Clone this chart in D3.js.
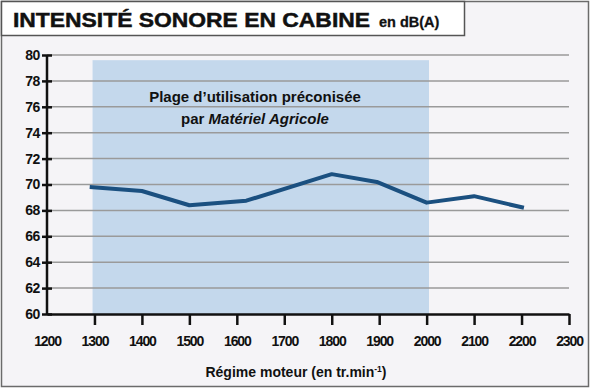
<!DOCTYPE html>
<html>
<head>
<meta charset="utf-8">
<script src="https://cdn.jsdelivr.net/npm/d3@7"></script>
<style>
  body { margin: 0; background: #fff; }
  svg { display: block; font-family: "Liberation Sans", Arial, Helvetica, sans-serif; }
</style>
</head>
<body>
<svg id="canvas"></svg>
<script>
// engine speed (tr/min) and cabin noise (dB(A))
const rpm = [1290, 1400, 1500, 1620, 1800, 1895, 2000, 2100, 2205];
const noise = [69.8, 69.5, 68.4, 68.75, 70.8, 70.2, 68.6, 69.1, 68.2];

const xTicks = [1200, 1300, 1400, 1500, 1600, 1700, 1800, 1900, 2000, 2100, 2200, 2300];
const yTicks = [60, 62, 64, 66, 68, 70, 72, 74, 76, 78, 80];

// recommended range (shaded band)
const bandRpm = [1296, 2005];
const bandTop = 79.6;

const width = 591, height = 388;

const svg = d3.select("#canvas")
    .attr("width", width)
    .attr("height", height);

// background + frame
svg.append("rect")
    .attr("x", 1.5).attr("y", 1.5)
    .attr("width", width - 4).attr("height", height - 3)
    .attr("fill", "#f5f4f7")
    .attr("stroke", "#6b6b6b")
    .attr("stroke-width", 1.5);

// title box
svg.append("rect")
    .attr("x", 1.5).attr("y", 1.5)
    .attr("width", 463).attr("height", 34)
    .attr("fill", "#fff")
    .attr("stroke", "#555")
    .attr("stroke-width", 1.5);

const title = svg.append("text")
    .attr("x", 13)
    .attr("y", 27)
    .attr("font-weight", "bold")
    .attr("fill", "#111")
    .attr("stroke", "#111")
    .attr("stroke-width", 0.5);
title.append("tspan")
    .attr("font-size", 21)
    .attr("textLength", 357)
    .attr("lengthAdjust", "spacingAndGlyphs")
    .text("INTENSITÉ SONORE EN CABINE");
title.append("tspan")
    .attr("x", 379)
    .attr("font-size", 14.5)
    .attr("stroke-width", 0.3)
    .text("en dB(A)");

const x = d3.scaleLinear().domain([1200, 2300]).range([47, 569]);
const y = d3.scaleLinear().domain([60, 80]).range([314, 55]);

// shaded band
svg.append("rect")
    .attr("x", x(bandRpm[0]))
    .attr("y", y(bandTop))
    .attr("width", x(bandRpm[1]) - x(bandRpm[0]))
    .attr("height", y(60) - y(bandTop))
    .attr("fill", "#c4d8ec");

// grid
svg.append("g")
    .selectAll("line")
    .data(yTicks.slice(1))
    .enter()
    .append("line")
    .attr("x1", x(1200))
    .attr("x2", x(2300))
    .attr("y1", d => y(d))
    .attr("y2", d => y(d))
    .attr("stroke", "#9a9a9a")
    .attr("stroke-width", 1.5);

// band label
const bandLabel = svg.append("text")
    .attr("text-anchor", "middle")
    .attr("font-weight", "bold")
    .attr("font-size", 15)
    .attr("fill", "#111");
bandLabel.append("tspan")
    .attr("x", 255).attr("y", 102)
    .text("Plage d’utilisation préconisée");
const line2 = bandLabel.append("tspan")
    .attr("x", 255).attr("y", 124);
line2.append("tspan").text("par ");
line2.append("tspan").attr("font-style", "italic").text("Matériel Agricole");

// line
const line = d3.line()
    .x((d, i) => x(rpm[i]))
    .y(d => y(d));

svg.append("path")
    .datum(noise)
    .attr("d", line)
    .attr("fill", "none")
    .attr("stroke", "#1b5080")
    .attr("stroke-width", 4)
    .attr("stroke-linejoin", "round");

// axes
const xAxis = d3.axisBottom(x)
    .tickValues(xTicks)
    .tickSizeInner(11)
    .tickSizeOuter(0)
    .tickPadding(6)
    .tickFormat(d => d);

const gx = svg.append("g")
    .attr("transform", `translate(0, ${y(60)})`)
    .call(xAxis);
gx.select(".domain").attr("stroke", "#111").attr("stroke-width", 2.5);
gx.selectAll(".tick line").attr("stroke", "#111").attr("stroke-width", 2.5)
    .attr("display", d => d === 1200 ? "none" : null);
gx.selectAll(".tick text")
    .attr("font-family", "Liberation Sans, Arial, sans-serif")
    .attr("font-size", 14)
    .attr("font-weight", "bold")
    .attr("letter-spacing", -1.1)
    .attr("fill", "#111")
    .attr("dy", "1em")
    .attr("y", 18);

const yAxis = d3.axisLeft(y)
    .tickValues(yTicks)
    .tickSize(5)
    .tickPadding(3)
    .tickFormat(d => d);

const gy = svg.append("g")
    .attr("transform", `translate(${x(1200)}, 0)`)
    .call(yAxis);
gy.select(".domain").attr("stroke", "#111").attr("stroke-width", 2.5).attr("d", `M0,${y(80)}V${y(60) + 1}`);
gy.selectAll(".tick line").attr("stroke", "#111").attr("stroke-width", 2.5)
    .attr("x1", 5).attr("x2", -5);
gy.selectAll(".tick text")
    .attr("font-family", "Liberation Sans, Arial, sans-serif")
    .attr("font-size", 14)
    .attr("font-weight", "bold")
    .attr("letter-spacing", -0.4)
    .attr("fill", "#111")
    .attr("x", -7);

// x axis title
const xt = svg.append("text")
    .attr("x", 296)
    .attr("y", 377)
    .attr("text-anchor", "middle")
    .attr("font-weight", "bold")
    .attr("font-size", 14)
    .attr("fill", "#111")
    .text("Régime moteur (en tr.min");
xt.append("tspan")
    .attr("font-size", 8.5)
    .attr("dy", -5)
    .text("-1");
xt.append("tspan")
    .attr("dy", 5)
    .text(")");
</script>
</body>
</html>
